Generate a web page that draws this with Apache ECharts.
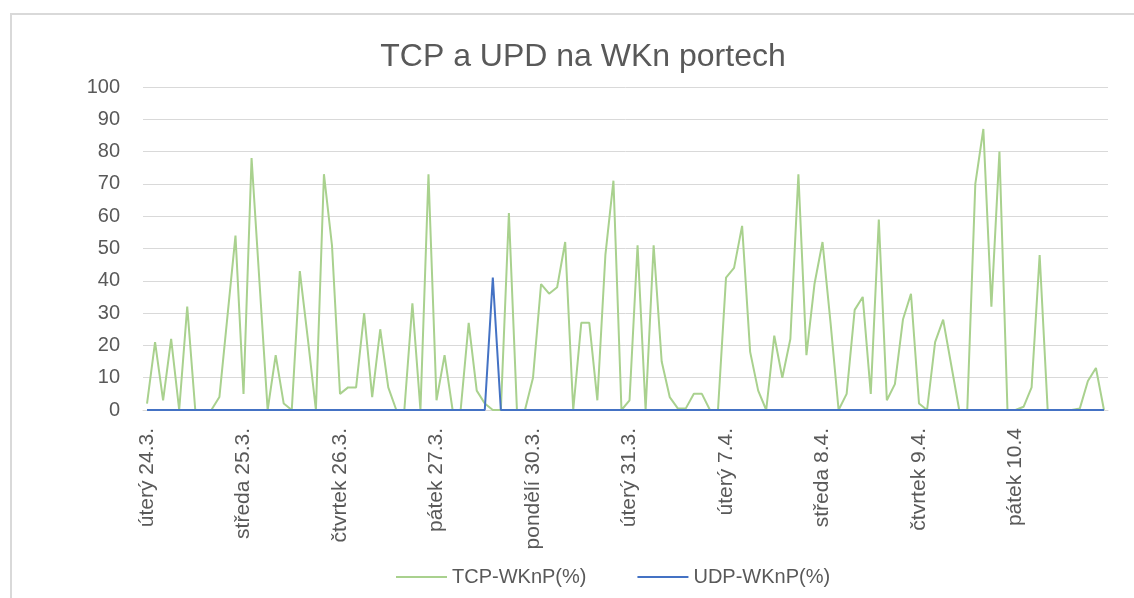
<!DOCTYPE html>
<html>
<head>
<meta charset="utf-8">
<script src="https://cdn.jsdelivr.net/npm/echarts@6/dist/echarts.min.js"></script>
<style>
  html, body { margin: 0; padding: 0; background: #fff; }
  #chart { width: 1134px; height: 598px; }
</style>
</head>
<body>
<div id="chart"></div>
<script>
// popisky dnů (každý den = 12 měření)
const days = ['úterý 24.3.', 'středa 25.3.', 'čtvrtek 26.3.', 'pátek 27.3.', 'pondělí 30.3.',
  'úterý 31.3.', 'úterý 7.4.', 'středa 8.4.', 'čtvrtek 9.4.', 'pátek 10.4'];
const perDay = 12;

// TCP-WKnP(%)
const tcp = [
  2, 21, 3, 22, 0, 32, 0, 0, 0, 4, 29, 54,
  5, 78, 39, 0, 17, 2, 0, 43, 22, 0, 73, 51,
  5, 7, 7, 30, 4, 25, 7, 0, 0, 33, 0, 73,
  3, 17, 0, 0, 27, 6, 2, 0, 0, 61, 0, 0,
  10, 39, 36, 38, 52, 0, 27, 27, 3, 48, 71, 0,
  3, 51, 0, 51, 15, 4, 0.5, 0.5, 5, 5, 0, 0,
  41, 44, 57, 18, 6, 0, 23, 10, 22, 73, 17, 39,
  52, 27, 0, 5, 31, 35, 5, 59, 3, 8, 28, 36,
  2, 0, 21, 28, 14, 0, 0, 70, 87, 32, 80, 0,
  0, 1, 7, 48, 0, 0, 0, 0, 0.5, 9, 13, 0
];

// UDP-WKnP(%)
const udp = [
  0, 0, 0, 0, 0, 0, 0, 0, 0, 0, 0, 0,
  0, 0, 0, 0, 0, 0, 0, 0, 0, 0, 0, 0,
  0, 0, 0, 0, 0, 0, 0, 0, 0, 0, 0, 0,
  0, 0, 0, 0, 0, 0, 0, 41, 0, 0, 0, 0,
  0, 0, 0, 0, 0, 0, 0, 0, 0, 0, 0, 0,
  0, 0, 0, 0, 0, 0, 0, 0, 0, 0, 0, 0,
  0, 0, 0, 0, 0, 0, 0, 0, 0, 0, 0, 0,
  0, 0, 0, 0, 0, 0, 0, 0, 0, 0, 0, 0,
  0, 0, 0, 0, 0, 0, 0, 0, 0, 0, 0, 0,
  0, 0, 0, 0, 0, 0, 0, 0, 0, 0, 0, 0
];

const categories = tcp.map((v, i) => days[Math.floor(i / perDay)] + '#' + i);

const font = 'Liberation Sans, Arial, sans-serif';
const textColor = '#595959';

const chart = echarts.init(document.getElementById('chart'), null, { renderer: 'canvas' });

chart.setOption({
  animation: false,
  backgroundColor: '#fff',
  graphic: [{
    type: 'rect',
    shape: { x: 11, y: 14, width: 1140, height: 600 },
    style: { fill: 'none', stroke: '#d9d9d9', lineWidth: 2 },
    silent: true
  }],
  title: {
    text: 'TCP a UPD na WKn portech',
    left: 578,
    textAlign: 'center',
    top: 36,
    textStyle: { fontFamily: font, fontSize: 32, fontWeight: 'normal', color: textColor }
  },
  legend: {
    left: 390,
    top: 562,
    itemWidth: 51,
    itemHeight: 14,
    itemGap: 50,
    itemStyle: { opacity: 0 },
    textStyle: { fontFamily: font, fontSize: 20, color: textColor },
    data: ['TCP-WKnP(%)', 'UDP-WKnP(%)']
  },
  grid: { left: 143, right: 26, top: 87, bottom: 188 },
  xAxis: {
    type: 'category',
    data: categories,
    boundaryGap: true,
    axisLine: { lineStyle: { color: '#d9d9d9' } },
    axisTick: { show: false },
    axisLabel: {
      interval: perDay - 1,
      rotate: 90,
      margin: 18,
      fontFamily: font,
      fontSize: 21,
      color: textColor,
      formatter: v => v.split('#')[0]
    }
  },
  yAxis: {
    type: 'value',
    min: 0,
    max: 100,
    interval: 10,
    axisLine: { show: false },
    axisTick: { show: false },
    splitLine: { lineStyle: { color: '#d9d9d9', width: 1 } },
    axisLabel: { margin: 23, fontFamily: font, fontSize: 20, color: textColor }
  },
  series: [
    {
      name: 'TCP-WKnP(%)',
      type: 'line',
      data: tcp,
      symbol: 'none',
      lineStyle: { color: '#a9d18e', width: 2 },
      itemStyle: { color: '#a9d18e' }
    },
    {
      name: 'UDP-WKnP(%)',
      type: 'line',
      data: udp,
      symbol: 'none',
      lineStyle: { color: '#4472c4', width: 2 },
      itemStyle: { color: '#4472c4' }
    }
  ]
});
</script>
</body>
</html>
